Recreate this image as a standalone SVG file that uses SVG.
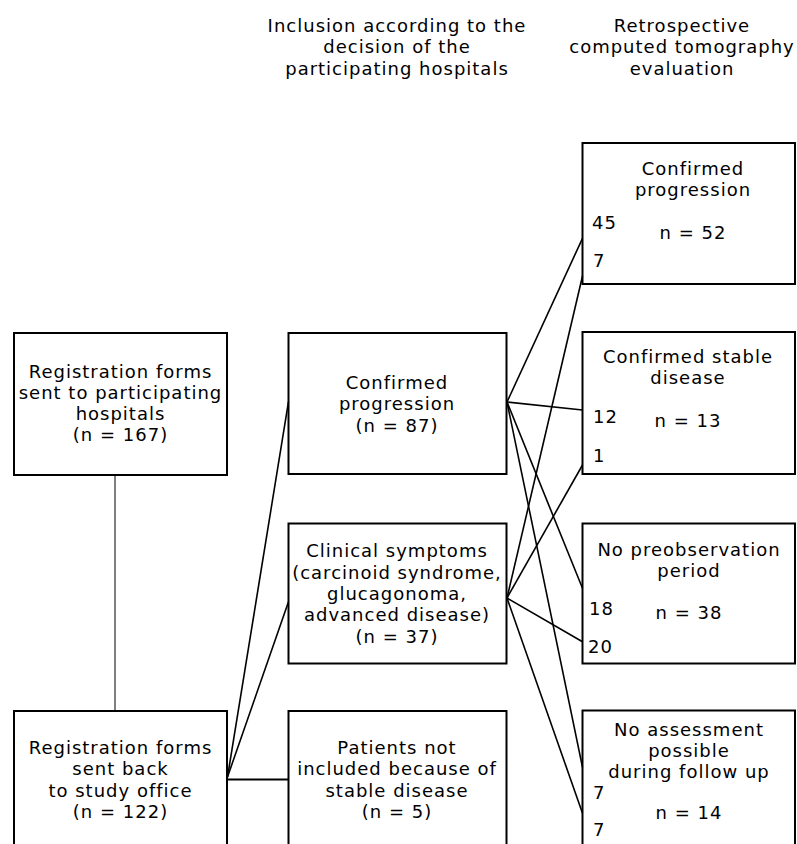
<svg xmlns="http://www.w3.org/2000/svg" width="797" height="844" viewBox="0 0 797 844">
<style>
text{font-family:"DejaVu Sans","Liberation Sans",sans-serif;font-size:18px;letter-spacing:1px;fill:#000}
.c{text-anchor:middle}
.box{fill:none;stroke:#000;stroke-width:2}
.ln{fill:none;stroke:#000;stroke-width:1.6}
.thin{fill:none;stroke:#000;stroke-width:1}
</style>
<rect x="0" y="0" width="797" height="844" fill="#fff"/>
<g id="header-inclusion">
<text class="c" x="397" y="32">Inclusion according to the</text>
<text class="c" x="397" y="53.3">decision of the</text>
<text class="c" x="397" y="74.6">participating hospitals</text>
</g>
<g id="header-ct">
<text class="c" x="682" y="32">Retrospective</text>
<text class="c" x="682" y="53.3">computed tomography</text>
<text class="c" x="682" y="74.6">evaluation</text>
</g>
<g id="connectors">
<line class="thin" x1="115" y1="475" x2="115" y2="711"/>
<line class="ln" x1="227.5" y1="777" x2="288.5" y2="401.7"/>
<line class="ln" x1="227.5" y1="777" x2="288.5" y2="601.7"/>
<line class="box" x1="227.5" y1="779.5" x2="288.5" y2="779.5"/>
<line class="ln" x1="507" y1="402" x2="582.5" y2="238.3"/>
<line class="ln" x1="507" y1="402" x2="582.5" y2="410"/>
<line class="ln" x1="507" y1="402" x2="582.5" y2="588.3"/>
<line class="ln" x1="507" y1="402" x2="582.5" y2="767.3"/>
<line class="ln" x1="507" y1="598" x2="582.5" y2="276"/>
<line class="ln" x1="507" y1="598" x2="582.5" y2="465"/>
<line class="ln" x1="507" y1="598" x2="582.5" y2="641.7"/>
<line class="ln" x1="507" y1="598" x2="582.5" y2="813.3"/>
</g>
<g id="reg-sent">
<rect class="box" x="14" y="333" width="213" height="142"/>
<text class="c" x="120.5" y="377.5">Registration forms</text>
<text class="c" x="120.5" y="398.8">sent to participating</text>
<text class="c" x="120.5" y="420.1">hospitals</text>
<text class="c" x="120.5" y="441.4">(n = 167)</text>
</g>
<g id="reg-back">
<rect class="box" x="14" y="711" width="213" height="140"/>
<text class="c" x="120.5" y="754">Registration forms</text>
<text class="c" x="120.5" y="775.3">sent back</text>
<text class="c" x="120.5" y="796.6">to study office</text>
<text class="c" x="120.5" y="817.9">(n = 122)</text>
</g>
<g id="mid-progression">
<rect class="box" x="288.5" y="333" width="218" height="141"/>
<text class="c" x="397" y="389">Confirmed</text>
<text class="c" x="397" y="410.3">progression</text>
<text class="c" x="397" y="431.6">(n = 87)</text>
</g>
<g id="mid-clinical">
<rect class="box" x="288.5" y="523.5" width="218" height="140"/>
<text class="c" x="397" y="557.3">Clinical symptoms</text>
<text class="c" x="397" y="578.6">(carcinoid syndrome,</text>
<text class="c" x="397" y="599.9">glucagonoma,</text>
<text class="c" x="397" y="621.2">advanced disease)</text>
<text class="c" x="397" y="642.5">(n = 37)</text>
</g>
<g id="mid-notincluded">
<rect class="box" x="288.5" y="711" width="218" height="140"/>
<text class="c" x="397" y="754">Patients not</text>
<text class="c" x="397" y="775.3">included because of</text>
<text class="c" x="397" y="796.6">stable disease</text>
<text class="c" x="397" y="817.9">(n = 5)</text>
</g>
<g id="ct-progression">
<rect class="box" x="582.5" y="143" width="212.5" height="141"/>
<text class="c" x="693" y="174.5">Confirmed</text>
<text class="c" x="693" y="195.8">progression</text>
<text x="592" y="229">45</text>
<text class="c" x="693" y="239">n = 52</text>
<text x="593" y="267">7</text>
</g>
<g id="ct-stable">
<rect class="box" x="582.5" y="332" width="212.5" height="142"/>
<text class="c" x="688" y="362.5">Confirmed stable</text>
<text class="c" x="688" y="383.8">disease</text>
<text x="593" y="423">12</text>
<text class="c" x="688" y="427">n = 13</text>
<text x="593" y="462">1</text>
</g>
<g id="ct-nopreobs">
<rect class="box" x="582.5" y="523.5" width="212.5" height="140"/>
<text class="c" x="689" y="555.5">No preobservation</text>
<text class="c" x="689" y="576.8">period</text>
<text x="589" y="615">18</text>
<text class="c" x="689" y="619">n = 38</text>
<text x="588" y="653">20</text>
</g>
<g id="ct-noassess">
<rect class="box" x="582.5" y="710.5" width="212.5" height="140"/>
<text class="c" x="689" y="735.5">No assessment</text>
<text class="c" x="689" y="756.8">possible</text>
<text class="c" x="689" y="778.1">during follow up</text>
<text x="593" y="798.5">7</text>
<text class="c" x="689" y="819">n = 14</text>
<text x="593" y="835.5">7</text>
</g>
</svg>
